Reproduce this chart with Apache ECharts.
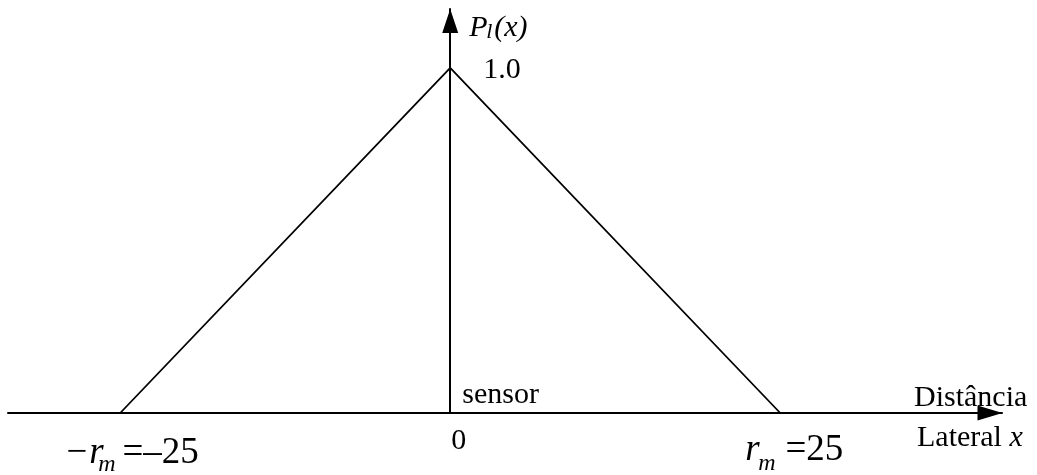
<!DOCTYPE html>
<html>
<head>
<meta charset="utf-8">
<script src="https://cdn.jsdelivr.net/npm/echarts@6/dist/echarts.min.js"></script>
<style>
html,body{margin:0;padding:0;background:#fff;}
#chart{width:1037px;height:475px;}
</style>
</head>
<body>
<div id="chart"></div>
<script>
// ---- data ----
const profileX = [-25, 0, 25];
const profileY = [0, 1.0, 0];
const xRange = [-33.5, 41.8];
const yRange = [0, 1.171];
const peakLabel = '1.0';
const zeroLabel = '0';
const sensorLabel = 'sensor';
const leftLabel = ['\u2212r', 'm', ' =\u201325'];
const rightLabel = ['r', 'm', ' =25'];
const yName = ['P', 'l', '(x)'];
const xName = ['Distância', 'Lateral ', 'x'];

(function () {
const serif = '"Liberation Serif", "Times New Roman", serif';
const chart = echarts.init(document.getElementById('chart'), null, {renderer: 'canvas'});

const axisCommon = {
  type: 'value',
  axisLabel: {show: false},
  axisTick: {show: false},
  splitLine: {show: false}
};

chart.setOption({
  animation: false,
  backgroundColor: '#fff',
  grid: {left: 8, right: 35, top: 9, bottom: 62, containLabel: false},
  xAxis: Object.assign({}, axisCommon, {
    min: xRange[0], max: xRange[1],
    axisLine: {show: true, onZero: true, symbol: ['none', 'triangle'],
      symbolSize: [15, 25], symbolOffset: [0, -12],
      lineStyle: {color: '#000', width: 2}}
  }),
  yAxis: Object.assign({}, axisCommon, {
    min: yRange[0], max: yRange[1],
    axisLine: {show: true, onZero: true, symbol: ['none', 'triangle'],
      symbolSize: [16, 24], symbolOffset: [0, -12],
      lineStyle: {color: '#000', width: 2}}
  }),
  series: [{
    type: 'line',
    data: profileX.map((x, i) => [x, profileY[i]]),
    symbol: 'none',
    lineStyle: {color: '#000', width: 1.8},
    z: 1
  }]
});

function px(x, y) { return chart.convertToPixel({gridIndex: 0}, [x, y]); }
function txt(text, x, baseY, size, italic) {
  return {
    type: 'text', x: x, y: baseY - 0.34 * size, silent: true,
    style: {text: text, fill: '#000', font: (italic ? 'italic ' : '') + size + 'px ' + serif,
      align: 'left', verticalAlign: 'middle'}
  };
}

const o = px(0, 0);
const pk = px(profileX[1], profileY[1]);
const lt = px(profileX[0], 0);
const rt = px(profileX[2], 0);
const yTop = px(0, yRange[1]);
const xEnd = px(xRange[1], 0);

const g = [];
g.push(txt(yName[0], yTop[0] + 19, yTop[1] + 29, 30, true));
g.push(txt(yName[1], yTop[0] + 36, yTop[1] + 31, 22, true));
g.push(txt(yName[2], yTop[0] + 44, yTop[1] + 29, 30, true));
g.push(txt(peakLabel, pk[0] + 33, pk[1] + 12, 30, false));
g.push(txt(sensorLabel, o[0] + 12, o[1] - 8, 30, false));
g.push(txt(zeroLabel, o[0] + 1, o[1] + 38, 30, false));
g.push(txt(xName[0], xEnd[0] - 88, o[1] - 5, 30, false));
g.push({
  type: 'text', x: xEnd[0] - 85, y: o[1] + 35 - 0.34 * 30, silent: true,
  style: {text: '{n|' + xName[1] + '}{i|' + xName[2] + '}', verticalAlign: 'middle', align: 'left',
    rich: {n: {font: '30px ' + serif, fill: '#000'}, i: {font: 'italic 30px ' + serif, fill: '#000'}}}
});
g.push(txt(leftLabel[0], lt[0] - 56, lt[1] + 53, 37, true));
g.push(txt(leftLabel[1], lt[0] - 22, lt[1] + 60, 24, true));
g.push(txt(leftLabel[2], lt[0] - 7, lt[1] + 53, 37, false));
g.push(txt(rightLabel[0], rt[0] - 35, rt[1] + 50, 37, true));
g.push(txt(rightLabel[1], rt[0] - 22, rt[1] + 59, 24, true));
g.push(txt(rightLabel[2], rt[0] - 4, rt[1] + 50, 37, false));

chart.setOption({graphic: g});
})();
</script>
</body>
</html>
